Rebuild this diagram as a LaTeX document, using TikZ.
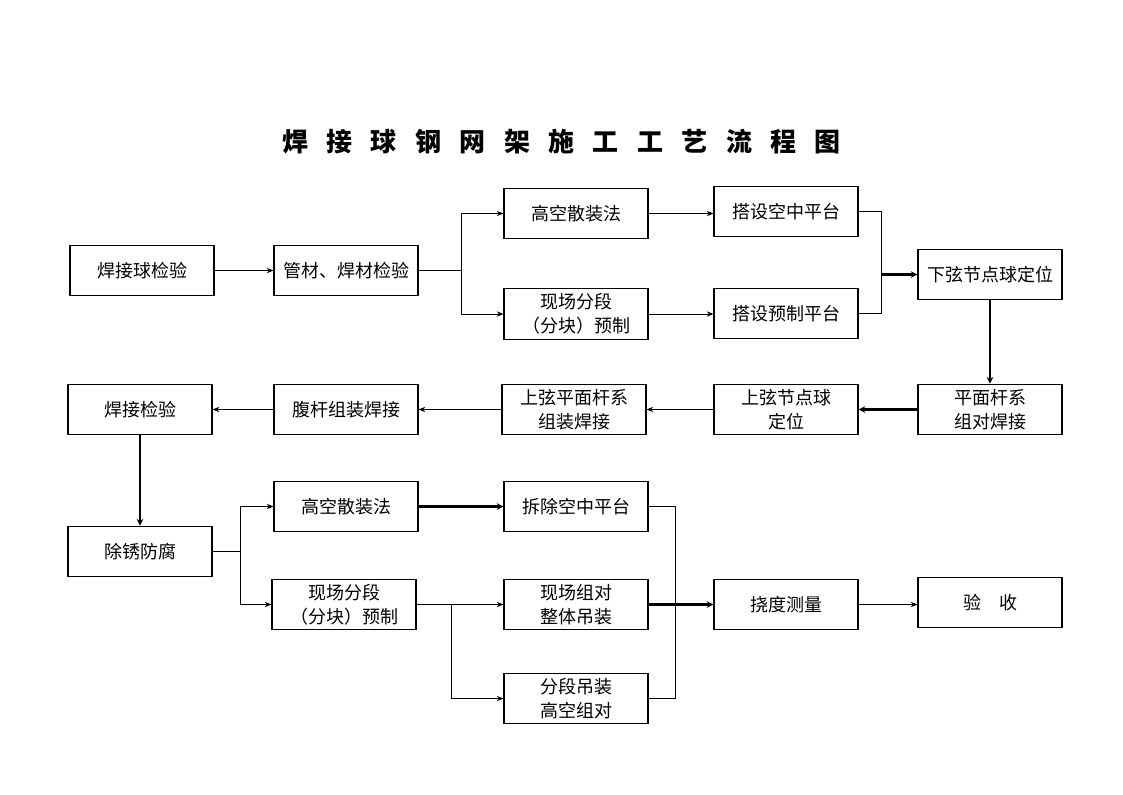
\documentclass[tikz,border=0pt]{standalone}
\usepackage{fontspec}
\setmainfont{Noto Sans CJK SC}
\usetikzlibrary{arrows.meta}
\newcommand{\tg}{\hspace{13.8pt}}
\tikzset{
  box/.style={draw, line width=0.85pt, minimum width=108pt, minimum height=38pt, inner sep=1pt, align=center, font=\fontsize{13.5pt}{18pt}\selectfont},
  ln/.style={line width=0.75pt},
  arr/.style={line width=0.75pt, -{Stealth[length=5pt,width=4pt]}},
  tarr/.style={line width=1.7pt, -{Stealth[length=5pt,width=5pt]}},
  tln/.style={line width=1.7pt}
}
\begin{document}
\begin{tikzpicture}[x=0.75pt,y=-0.75pt]
\useasboundingbox[fill=white] (0,0) rectangle (1123,794);
\node[font=\fontsize{19.5pt}{22pt}\selectfont\bfseries] (title) at (561.5,142) {焊\tg 接\tg 球\tg 钢\tg 网\tg 架\tg 施\tg 工\tg 工\tg 艺\tg 流\tg 程\tg 图};
% row 1
\node[box] (n1) at (142,270.5) {焊接球检验};
\node[box] (n2) at (346,270.5) {管材、焊材检验};
\node[box] (n3) at (576,213.5) {高空散装法};
\node[box] (n4) at (576,314) {现场分段\\（分块）预制};
\node[box] (n5) at (786,211.5) {搭设空中平台};
\node[box] (n6) at (786,313.5) {搭设预制平台};
\node[box] (n7) at (990,274.5) {下弦节点球定位};
% row 2
\node[box] (n8) at (990,409.5) {平面杆系\\组对焊接};
\node[box] (n9) at (786,409.5) {上弦节点球\\定位};
\node[box] (n10) at (574,409.5) {上弦平面杆系\\组装焊接};
\node[box] (n11) at (346,409.5) {腹杆组装焊接};
\node[box] (n12) at (140,409.5) {焊接检验};
% row 3
\node[box] (n13) at (140,551.5) {除锈防腐};
\node[box] (n14) at (346,506.5) {高空散装法};
\node[box] (n15) at (576,506.5) {拆除空中平台};
\node[box] (n16) at (344,604.5) {现场分段\\（分块）预制};
\node[box] (n17) at (576,604.5) {现场组对\\整体吊装};
\node[box] (n18) at (576,698.5) {分段吊装\\高空组对};
\node[box] (n19) at (786,604.5) {挠度测量};
\node[box] (n20) at (990,602.5) {验\quad 收};
% junctions
\coordinate (j1) at (461,270.5);
\coordinate (j2) at (881,274.5);
\coordinate (j3) at (240,551.5);
\coordinate (j4) at (451,604.5);
\coordinate (j5) at (675,604.5);
% connectors row 1
\draw[arr] (n1.east) -- (n2.west);
\draw[ln] (n2.east) -- (j1);
\draw[arr] (j1) |- (n3.west);
\draw[arr] (j1) |- (n4.west);
\draw[arr] (n3.east) -- (n3.east -| n5.west);
\draw[arr] (n4.east) -- (n4.east -| n6.west);
\draw[ln] (n5.east) -| (j2);
\draw[ln] (n6.east) -| (j2);
\draw[tarr] (j2) -- (n7.west);
\draw[tarr] (n7.south) -- (n8.north);
% row 2
\draw[tarr] (n8.west) -- (n9.east);
\draw[arr] (n9.west) -- (n10.east);
\draw[arr] (n10.west) -- (n11.east);
\draw[arr] (n11.west) -- (n12.east);
\draw[tarr] (n12.south) -- (n13.north);
% row 3
\draw[ln] (n13.east) -- (j3);
\draw[arr] (j3) |- (n14.west);
\draw[arr] (j3) |- (n16.west);
\draw[tarr] (n14.east) -- (n15.west);
\draw[arr] (n16.east) -- (n17.west);
\draw[arr] (j4) |- (n18.west);
\draw[ln] (n15.east) -| (j5);
\draw[ln] (n18.east) -| (j5);
\draw[tarr] (n17.east) -- (n19.west);
\draw[arr] (n19.east) -- (n19.east -| n20.west);
\end{tikzpicture}
\end{document}
